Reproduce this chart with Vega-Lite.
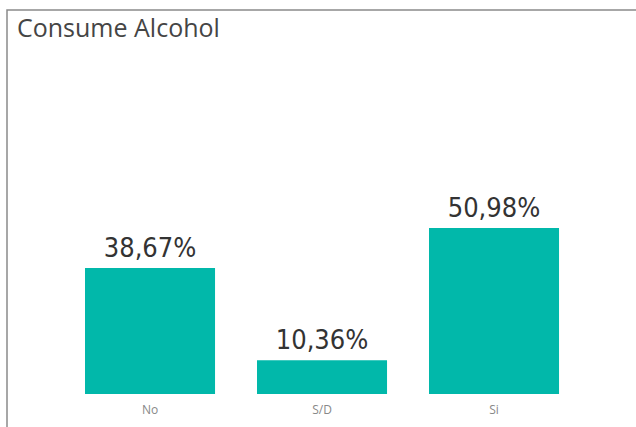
{
  "$schema": "https://vega.github.io/schema/vega-lite/v6.json",
  "autosize": "none",
  "width": 640,
  "height": 430,
  "padding": {"left": 7, "top": 10, "right": 0, "bottom": 0},
  "background": "white",
  "title": {"text": "Consume Alcohol", "anchor": "start", "frame": "group", "orient": "top", "offset": 0, "dx": 10, "dy": 52, "font": "Open Sans", "fontSize": 25, "fontWeight": "normal", "color": "#454545", "baseline": "alphabetic"},
  "config": {"view": {"stroke": "#8a8a8a", "strokeWidth": 1.5}},
  "data": {"values": [
    {"cat": "No", "val": 38.67, "lbl": "38,67%"},
    {"cat": "S/D", "val": 10.36, "lbl": "10,36%"},
    {"cat": "Si", "val": 50.98, "lbl": "50,98%"}
  ]},
  "encoding": {
    "x": {"field": "cat", "type": "nominal", "axis": null, "sort": null,
      "scale": {"paddingInner": 0.244, "paddingOuter": 0.4825, "align": 0.47}}
  },
  "layer": [
    {"mark": {"type": "bar", "color": "#01B8AA"},
     "encoding": {"y": {"field": "val", "type": "quantitative", "axis": null, "scale": {"domain": [-14.13, 117.94], "nice": false, "zero": false}}}},
    {"mark": {"type": "text", "font": "DejaVu Sans Condensed", "fontSize": 27, "color": "#333333", "baseline": "alphabetic", "dy": -11},
     "encoding": {"y": {"field": "val", "type": "quantitative"}, "text": {"field": "lbl"}}},
    {"mark": {"type": "text", "font": "Open Sans", "fontSize": 12, "color": "#888888", "baseline": "middle"},
     "encoding": {"y": {"datum": -4.9}, "text": {"field": "cat"}}}
  ]
}
